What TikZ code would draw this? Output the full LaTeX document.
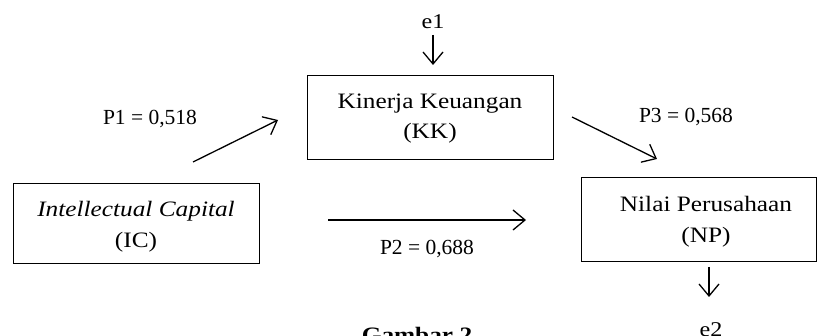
\documentclass[tikz,border=0pt]{standalone}
\usepackage{fontspec}
\setmainfont{Liberation Serif}
\newfontfamily\widefont{Liberation Serif}[FakeStretch=1.15]
\usetikzlibrary{arrows.meta}
\begin{document}
\begin{tikzpicture}[x=1pt,y=-1pt,
  box/.style={draw,line width=1pt,inner sep=0pt},
  lbl/.style={font=\fontsize{21.5}{24}\selectfont,inner sep=0pt,anchor=base},
  btxt/.style={font=\widefont\fontsize{22}{24}\selectfont,inner sep=0pt,anchor=base},
  arr/.style={line width=1.3pt,-{Straight Barb[length=12pt,width=20pt,line width=1.3pt]}}]
\useasboundingbox (0,0) rectangle (817,336);
\node[box,minimum width=246pt,minimum height=80pt] (ic) at (136,224) {};
\node[btxt] (ic1) at (136,217) {\itshape Intellectual Capital};
\node[btxt] (ic2) at (136,248) {(IC)};
\node[box,minimum width=246pt,minimum height=84pt] (kk) at (430,118) {};
\node[btxt] (kk1) at (430,109) {Kinerja Keuangan};
\node[btxt] (kk2) at (430,139) {(KK)};
\node[box,minimum width=235pt,minimum height=84pt] (np) at (698.5,220) {};
\node[btxt] (np1) at (706,212) {Nilai Perusahaan};
\node[btxt] (np2) at (706,243) {(NP)};
\coordinate (p1s) at (193,162); \coordinate (p1e) at (278,120);
\coordinate (p2s) at (328,220); \coordinate (p2e) at (526,220);
\coordinate (p3s) at (572,117); \coordinate (p3e) at (657,159);
\coordinate (e1s) at (433,35); \coordinate (e1e) at (433,65);
\coordinate (e2s) at (709,267); \coordinate (e2e) at (709,297);
\draw[arr] (p1s) -- (p1e);
\draw[arr] (p2s) -- (p2e);
\draw[arr] (p3s) -- (p3e);
\draw[arr] (e1s) -- (e1e);
\draw[arr] (e2s) -- (e2e);
\node[lbl] (l1) at (150,125) {P1 = 0,518};
\node[lbl] (l2) at (427,255) {P2 = 0,688};
\node[lbl] (l3) at (686,123) {P3 = 0,568};
\node[btxt,font=\widefont\fontsize{21}{24}\selectfont] (e1) at (433,29) {e1};
\node[btxt,font=\widefont\fontsize{21}{24}\selectfont,anchor=north] (e2) at (711,322) {e2};
\node[btxt,anchor=north,font=\widefont\fontsize{22}{24}\selectfont\bfseries] (cap) at (417,327) {Gambar 2};
\end{tikzpicture}
\end{document}
